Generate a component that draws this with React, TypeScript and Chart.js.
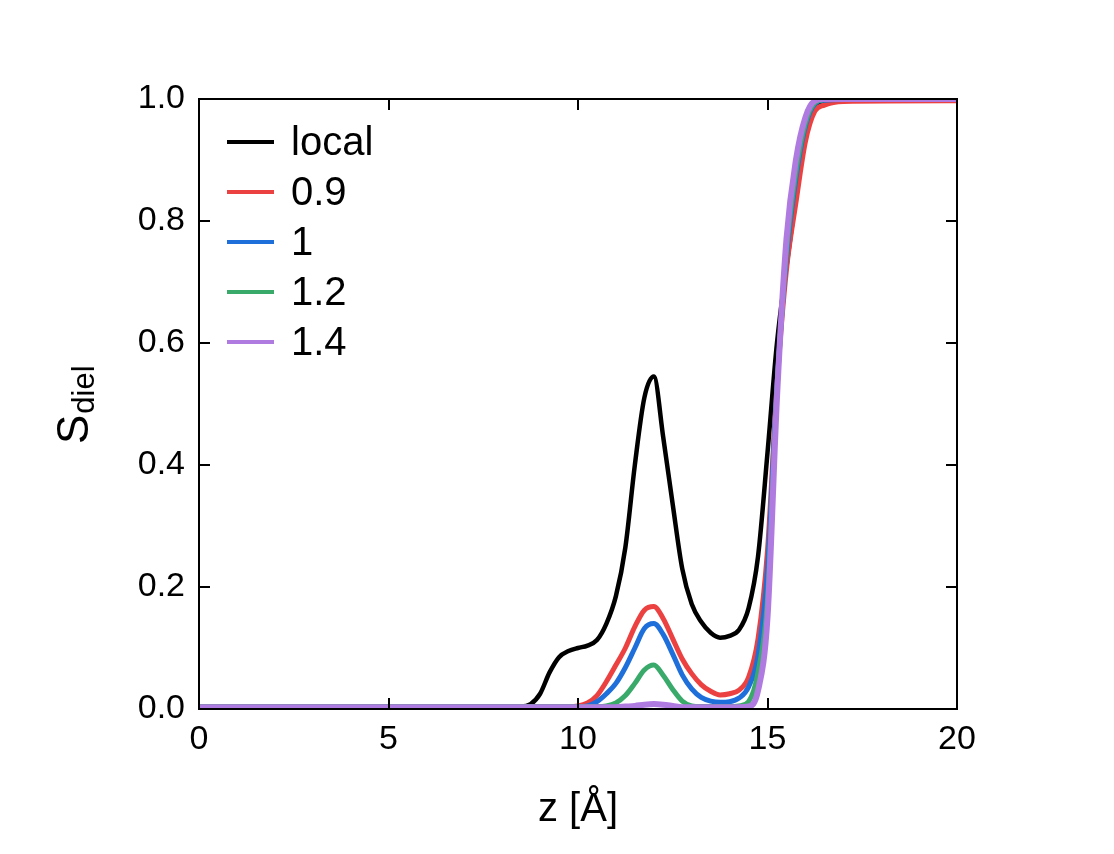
import React, { useEffect, useRef } from "react";
import { Chart, registerables } from "chart.js";

Chart.register(...registerables);

const zGrid = [0, 8, 8.5, 8.75, 9, 9.25, 9.5, 9.75, 10, 10.25, 10.5, 10.75, 11, 11.25, 11.5, 11.75, 12, 12.25, 12.5, 12.75, 13, 13.25, 13.5, 13.75, 14, 14.25, 14.5, 14.75, 15, 15.25, 15.5, 15.75, 16, 16.25, 16.5, 17, 20];

const localVals = [0.004, 0.004, 0.004, 0.008, 0.025, 0.06, 0.085, 0.095, 0.1, 0.104, 0.113, 0.14, 0.185, 0.265, 0.4, 0.51, 0.545, 0.445, 0.335, 0.23, 0.172, 0.143, 0.125, 0.117, 0.12, 0.13, 0.165, 0.25, 0.42, 0.6, 0.725, 0.84, 0.94, 0.985, 0.998, 1.0, 1.0];
const s09Vals = [0.004, 0.004, 0.004, 0.004, 0.004, 0.004, 0.004, 0.004, 0.005, 0.01, 0.022, 0.045, 0.072, 0.1, 0.135, 0.162, 0.168, 0.148, 0.115, 0.082, 0.058, 0.04, 0.029, 0.023, 0.025, 0.031, 0.052, 0.115, 0.26, 0.53, 0.72, 0.83, 0.93, 0.98, 0.99, 0.996, 0.997];
const s10Vals = [0.004, 0.004, 0.004, 0.004, 0.004, 0.004, 0.004, 0.004, 0.004, 0.005, 0.012, 0.025, 0.042, 0.068, 0.1, 0.132, 0.14, 0.122, 0.09, 0.056, 0.033, 0.019, 0.013, 0.011, 0.012, 0.018, 0.036, 0.088, 0.23, 0.53, 0.74, 0.87, 0.955, 0.992, 0.998, 0.999, 0.999];
const s12Vals = [0.004, 0.004, 0.004, 0.004, 0.004, 0.004, 0.004, 0.004, 0.004, 0.004, 0.004, 0.005, 0.01, 0.022, 0.042, 0.064, 0.072, 0.055, 0.032, 0.013, 0.005, 0.004, 0.004, 0.004, 0.004, 0.005, 0.012, 0.06, 0.18, 0.52, 0.75, 0.88, 0.96, 0.994, 0.999, 1.0, 1.0];
const s14Vals = [0.003, 0.003, 0.003, 0.003, 0.003, 0.003, 0.003, 0.003, 0.003, 0.003, 0.003, 0.003, 0.003, 0.004, 0.005, 0.007, 0.008, 0.007, 0.005, 0.003, 0.003, 0.003, 0.003, 0.003, 0.003, 0.003, 0.004, 0.03, 0.15, 0.51, 0.77, 0.9, 0.97, 0.997, 1.0, 1.0, 1.0];

const seriesLabels = ["local", "0.9", "1", "1.2", "1.4"];
const seriesValues = [localVals, s09Vals, s10Vals, s12Vals, s14Vals];
const seriesColors = ["#000000", "#ec4141", "#1f6fdb", "#3aaa6b", "#b07be0"];
const seriesWidths = [4.5, 5, 5, 5, 6];

const xTicks = [0, 5, 10, 15, 20];
const yTicks = [0, 0.2, 0.4, 0.6, 0.8, 1.0];

const FONT = "'Liberation Sans', Arial, sans-serif";

const framePlugin = {
  id: "frame",
  afterDraw(chart: any) {
    const { ctx, chartArea } = chart;
    const { left, right, top, bottom } = chartArea;
    const xs = chart.scales.x;
    const ys = chart.scales.y;
    ctx.save();
    ctx.strokeStyle = "#000";
    ctx.lineWidth = 2;
    ctx.strokeRect(left, top, right - left, bottom - top);
    const tl = 11;
    ctx.beginPath();
    xTicks.forEach((v) => {
      const px = Math.round(xs.getPixelForValue(v));
      ctx.moveTo(px, bottom);
      ctx.lineTo(px, bottom - tl);
      ctx.moveTo(px, top);
      ctx.lineTo(px, top + tl);
    });
    yTicks.forEach((v) => {
      const py = Math.round(ys.getPixelForValue(v));
      ctx.moveTo(left, py);
      ctx.lineTo(left + tl, py);
      ctx.moveTo(right, py);
      ctx.lineTo(right - tl, py);
    });
    ctx.stroke();

    // legend
    ctx.font = `40px ${FONT}`;
    ctx.textBaseline = "middle";
    ctx.textAlign = "left";
    seriesLabels.forEach((lab, i) => {
      const y = 142 + i * 50;
      ctx.strokeStyle = seriesColors[i];
      ctx.lineWidth = 4;
      ctx.beginPath();
      ctx.moveTo(227, y);
      ctx.lineTo(274, y);
      ctx.stroke();
      ctx.fillStyle = "#000";
      ctx.fillText(lab, 291, y + 2);
    });

    // x title
    ctx.fillStyle = "#000";
    ctx.font = `40px ${FONT}`;
    ctx.textAlign = "center";
    ctx.textBaseline = "alphabetic";
    ctx.fillText("z [Å]", (left + right) / 2, 821);

    // y title
    ctx.save();
    ctx.translate(88, 444);
    ctx.rotate(-Math.PI / 2);
    ctx.textAlign = "left";
    ctx.font = `44px ${FONT}`;
    ctx.fillText("S", 0, 0);
    const w = ctx.measureText("S").width;
    ctx.font = `31px ${FONT}`;
    ctx.fillText("diel", w + 1, 6);
    ctx.restore();
    ctx.restore();
  },
};

export default function App() {
  const ref = useRef<HTMLCanvasElement | null>(null);
  useEffect(() => {
    if (!ref.current) return;
    const datasets = seriesLabels.map((lab, i) => ({
      label: lab,
      data: zGrid.map((z, j) => ({ x: z, y: seriesValues[i][j] })),
      borderColor: seriesColors[i],
      backgroundColor: seriesColors[i],
      borderWidth: seriesWidths[i],
      pointRadius: 0,
      cubicInterpolationMode: "monotone" as const,
      fill: false,
      order: 5 - i,
    }));
    const chart = new Chart(ref.current, {
      type: "line",
      data: { datasets },
      options: {
        animation: false,
        responsive: false,
        devicePixelRatio: 1,
        layout: { padding: { left: 0, top: 99, right: 157, bottom: 0 } },
        plugins: { legend: { display: false }, tooltip: { enabled: false } },
        scales: {
          x: {
            type: "linear",
            min: 0,
            max: 20,
            afterFit: (s: any) => { s.height = 145; },
            afterBuildTicks: (s: any) => { s.ticks = xTicks.map((v) => ({ value: v })); },
            grid: { display: false, drawTicks: false },
            border: { display: false },
            ticks: { font: { family: FONT, size: 34 }, color: "#000", padding: 10, autoSkip: false, maxRotation: 0 },
          },
          y: {
            type: "linear",
            min: 0,
            max: 1,
            afterFit: (s: any) => { s.width = 199; },
            afterBuildTicks: (s: any) => { s.ticks = yTicks.map((v) => ({ value: v })); },
            grid: { display: false, drawTicks: false },
            border: { display: false },
            ticks: {
              font: { family: FONT, size: 34 },
              color: "#000",
              padding: 14,
              autoSkip: false,
              callback: (v: any) => Number(v).toFixed(1),
            },
          },
        },
      },
      plugins: [framePlugin],
    });
    return () => chart.destroy();
  }, []);
  return (
    <div style={{ position: "fixed", left: 0, top: 0, width: 1114, height: 854, background: "#fff" }}>
      <canvas ref={ref} width={1114} height={854} style={{ width: 1114, height: 854 }} />
    </div>
  );
}
